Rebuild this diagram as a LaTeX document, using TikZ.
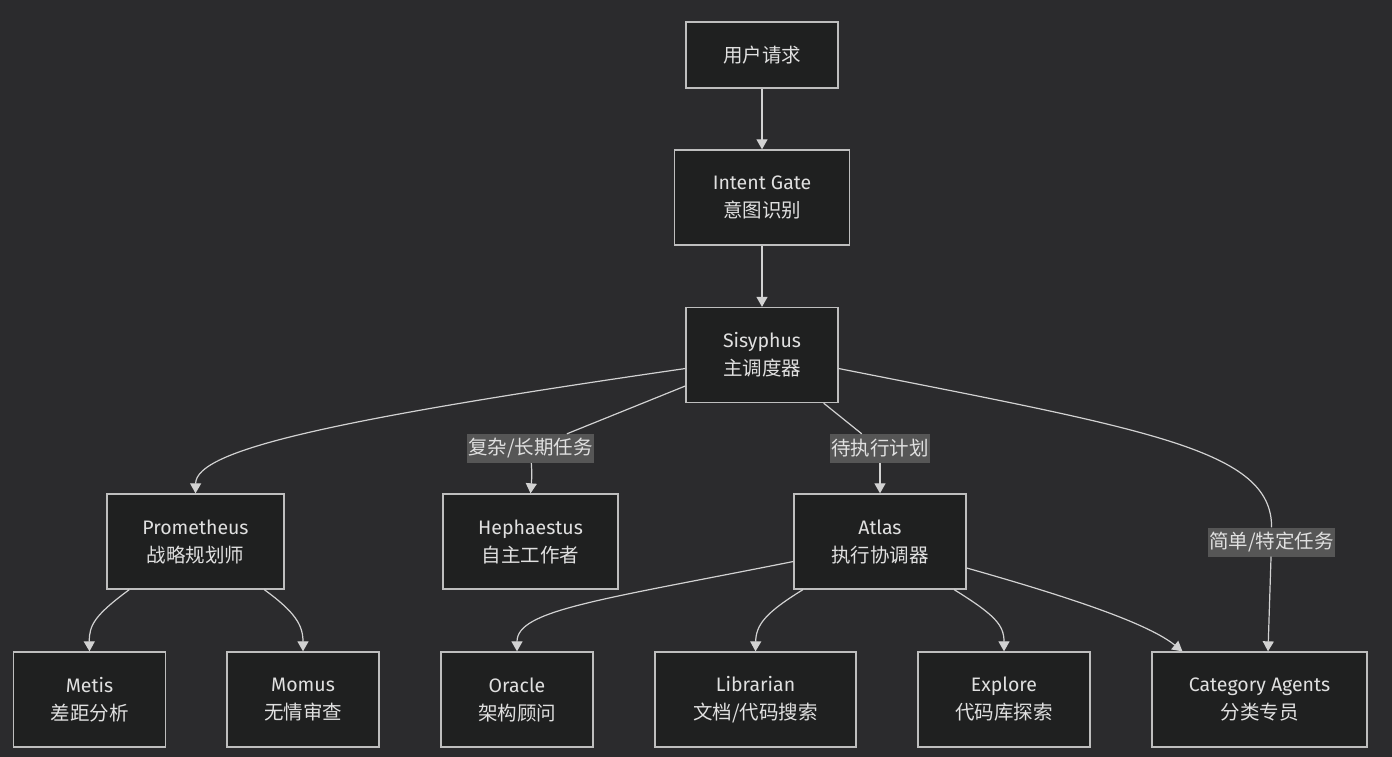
\documentclass[tikz,border=0pt]{standalone}
\usepackage{fontspec}
\setmainfont{Fira Sans}
\newfontfamily\cjk{Noto Sans CJK SC}
\usetikzlibrary{arrows.meta, positioning}
\definecolor{Backdrop}{RGB}{43, 43, 45}
\definecolor{BoxFill}{RGB}{31, 32, 32}
\definecolor{BoxLine}{RGB}{190, 190, 190}
\definecolor{Ink}{RGB}{224, 224, 224}
\definecolor{Wire}{RGB}{210, 210, 210}
\definecolor{TagFill}{RGB}{86, 86, 86}
\tikzset{
    agent/.style={draw=BoxLine, line width=1.3pt, fill=BoxFill, text=Ink, align=center,
        minimum height=95, inner sep=0pt, font=\fontsize{19.5}{28}\selectfont},
    tag/.style={fill=TagFill, text=Ink, inner xsep=1.5pt, inner ysep=0pt,
        minimum height=29, font=\cjk\fontsize{19.5}{24}\selectfont},
    flow/.style={draw=Wire, line width=1.2pt},
}

\begin{document}
\begin{tikzpicture}[x=1pt, y=-1pt, >={Triangle[length=10pt, width=11pt]}]
    % Canvas: 1 unit = 1 pixel of the 1392 x 757 frame, y grows downwards
    \fill[Backdrop] (0,0) rectangle (1392,757);
    \useasboundingbox (0,0) rectangle (1392,757);
    % Entry chain
    \node[agent, minimum width=152, minimum height=66] (user) at (762,55) {\cjk 用户请求};
    \node[agent, minimum width=175] (gate) at (762,197.5) {Intent Gate\\{\cjk 意图识别}};
    \node[agent, minimum width=152] (sis) at (762,355) {Sisyphus\\{\cjk 主调度器}};
    % Second row
    \node[agent, minimum width=177] (prom) at (195.5,541.5) {Prometheus\\{\cjk 战略规划师}};
    \node[agent, minimum width=175] (heph) at (530.5,541.5) {Hephaestus\\{\cjk 自主工作者}};
    \node[agent, minimum width=172] (atlas) at (880,541.5) {Atlas\\{\cjk 执行协调器}};
    % Bottom row
    \node[agent, minimum width=152] (metis) at (89.5,699.5) {Metis\\{\cjk 差距分析}};
    \node[agent, minimum width=152] (momus) at (303,699.5) {Momus\\{\cjk 无情审查}};
    \node[agent, minimum width=152] (oracle) at (517,699.5) {Oracle\\{\cjk 架构顾问}};
    \node[agent, minimum width=201] (lib) at (755.5,699.5) {Librarian\\{\cjk 文档/代码搜索}};
    \node[agent, minimum width=172] (explore) at (1004,699.5) {Explore\\{\cjk 代码库探索}};
    \node[agent, minimum width=215] (cat) at (1259.5,699.5) {Category Agents\\{\cjk 分类专员}};
    % Edge labels
    \node[tag] (lblA) at (530.5,448.5) {复杂/长期任务};
    \node[tag] (lblB) at (880,448.5) {待执行计划};
    \node[tag] (lblC) at (1271.5,542) {简单/特定任务};
    % Connectors
    \draw[flow, ->] (user) -- (gate);
    \draw[flow, ->] (gate) -- (sis);
    \draw[flow, ->] (sis.190) .. controls (330,420) and (196,450) .. (prom.north);
    \draw[flow] (sis.202) -- (lblA);
    \draw[flow, ->] (lblA) .. controls (532,475) .. (heph.north);
    \draw[flow] (sis.-38) -- (lblB);
    \draw[flow, ->] (lblB) .. controls (880,475) .. (atlas.north);
    \draw[flow] (sis.-10) .. controls (1150,430) and (1272,450) .. (lblC);
    \draw[flow, ->] (lblC) -- (cat.80);
    \draw[flow, ->] (prom.216) .. controls (95,615) and (89,625) .. (metis.north);
    \draw[flow, ->] (prom.-35) .. controls (295,612) and (303,625) .. (momus.north);
    \draw[flow, ->] (atlas.193) .. controls (600,600) and (517,610) .. (oracle.north);
    \draw[flow, ->] (atlas.212) .. controls (765,613) and (756,625) .. (lib.north);
    \draw[flow, ->] (atlas.-33) .. controls (995,615) and (1004,625) .. (explore.north);
    \draw[flow, ->] (atlas.-17) .. controls (1080,600) and (1150,625) .. (cat.148);
\end{tikzpicture}
\end{document}
